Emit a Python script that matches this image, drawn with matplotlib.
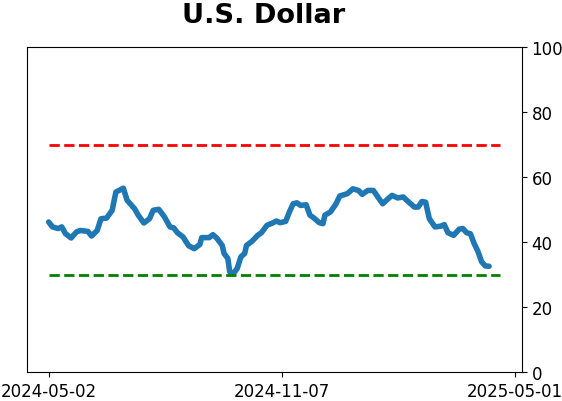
import matplotlib
matplotlib.use("Agg")
import matplotlib.pyplot as plt

# Trading-day offsets from 2024-05-02 and indicator values
day_idx = [0, 2, 5, 7, 9, 12, 15, 17, 21, 23, 26, 28, 31, 34, 36, 40, 42, 46, 48, 51,
           54, 56, 59, 62, 65, 67, 69, 72, 75, 78, 81, 82, 86, 88, 90, 93, 94, 96, 97, 99,
           101, 103, 105, 106, 109, 112, 114, 117, 120, 122, 124, 127, 129, 131, 133, 135, 138, 140, 142, 145,
           147, 148, 151, 154, 156, 160, 163, 166, 168, 171, 174, 177, 179, 181, 184, 187, 190, 193, 196, 198,
           200, 202, 204, 207, 210, 212, 214, 217, 220, 222, 224, 226, 228, 230, 232, 234, 236]
values = [46.2, 44.7, 44.2, 44.7, 42.6, 41.3, 43.2, 43.6, 43.3, 41.9, 43.6, 47.2, 47.4, 49.8, 55.4, 56.6, 52.9, 50.3, 48.3, 45.9,
          47.2, 49.8, 50.1, 47.8, 44.7, 44.4, 42.9, 41.6, 38.9, 38.0, 39.3, 41.4, 41.4, 42.3, 41.3, 39.0, 36.5, 35.0, 30.9, 30.4,
          31.9, 35.5, 36.5, 39.0, 40.3, 42.1, 42.9, 45.2, 45.9, 46.5, 46.0, 46.4, 49.3, 51.8, 52.1, 51.3, 51.5, 48.3, 47.5, 46.0,
          45.7, 48.3, 49.3, 51.8, 54.2, 54.9, 56.4, 55.9, 54.7, 55.9, 55.9, 53.4, 51.8, 52.9, 54.4, 53.6, 53.9, 52.3, 50.8, 50.8,
          52.5, 52.3, 47.2, 44.7, 44.9, 45.4, 42.9, 42.1, 44.0, 44.2, 42.9, 42.6, 39.6, 37.2, 34.0, 32.7, 32.6]

tick_pos = [0, 125, 250]
tick_labels = ["2024-05-02", "2024-11-07", "2025-05-01"]
upper_level = 70
lower_level = 30
line_span = [0, 242]

fig = plt.figure(figsize=(5.62, 4.02), dpi=100)
ax = fig.add_axes([0.0475, 0.0714, 0.8808, 0.8092])

ax.plot(day_idx, values, color="#1f77b4", linewidth=4, solid_capstyle="round")
ax.hlines(upper_level, line_span[0], line_span[1], colors="red", linestyles="--", linewidth=2)
ax.hlines(lower_level, line_span[0], line_span[1], colors="green", linestyles="--", linewidth=2)

ax.set_xlim(-11.8, 253.5)
ax.set_ylim(0, 100)
ax.set_xticks(tick_pos)
ax.set_xticklabels(tick_labels, fontsize=12)
ax.yaxis.tick_right()
ax.set_yticks([0, 20, 40, 60, 80, 100])
ax.tick_params(axis="y", labelsize=12)
ax.set_title("U.S. Dollar", fontsize=19.6, fontweight="bold", pad=18, x=0.479)

fig.savefig("out.png", dpi=100)
